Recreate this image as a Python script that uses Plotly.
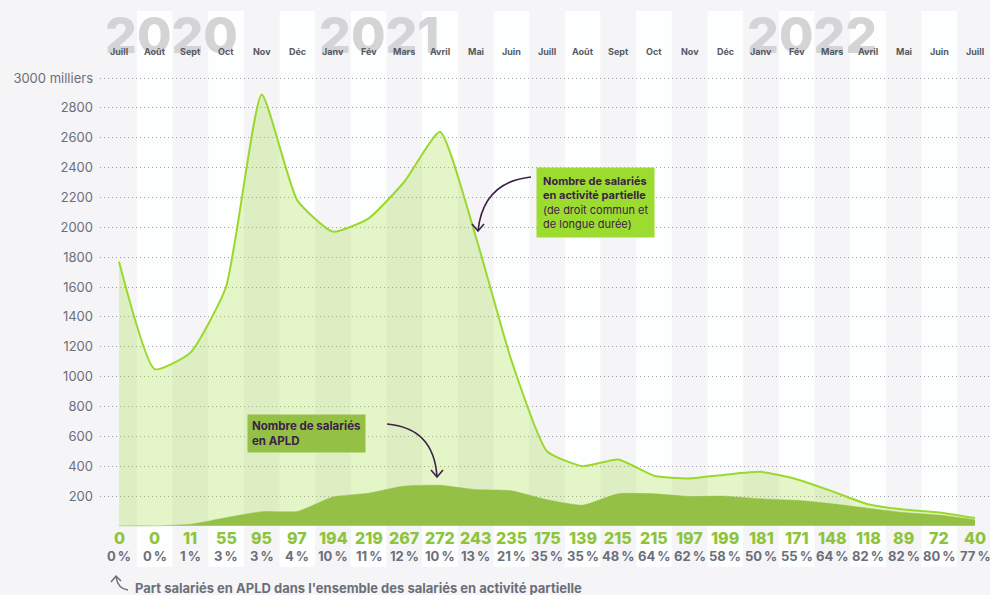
import plotly.graph_objects as go

# Monthly series, July 2020 -> July 2022
months = ["Juill", "Août", "Sept", "Oct", "Nov", "Déc", "Janv", "Fév", "Mars", "Avril", "Mai", "Juin",
          "Juill", "Août", "Sept", "Oct", "Nov", "Déc", "Janv", "Fév", "Mars", "Avril", "Mai", "Juin", "Juill"]
# Total employees in short-time work (thousands)
activite_partielle = [1770, 1050, 1160, 1600, 2890, 2180, 1970, 2060, 2305, 2640, 1940, 1110,
                      500, 400, 445, 336, 318, 343, 362, 312, 231, 145, 109, 90, 52]
# Employees in long-duration short-time work (APLD, thousands)
apld = [0, 0, 11, 55, 95, 97, 194, 219, 267, 272, 243, 235,
        175, 139, 215, 215, 197, 199, 181, 171, 148, 118, 89, 72, 40]
# Share of APLD among all employees in short-time work
part_apld = ["0", "0", "1", "3", "3", "4", "10", "11", "12", "10", "13", "21",
             "35", "35", "48", "64", "62", "58", "50", "55", "64", "82", "82", "80", "77"]
years = [("2020", 0), ("2021", 6), ("2022", 18)]
y_ticks = [200, 400, 600, 800, 1000, 1200, 1400, 1600, 1800, 2000, 2200, 2400, 2600, 2800, 3000]

FONT = "Inter"
BG = "#f5f5f7"
LIME = "#9bd82e"
APLD_GREEN = "#93c045"
GREY_TXT = "#6c6f79"
PURPLE = "#3c2249"
SMOOTH = 0.5

x = list(range(len(months)))

# figure geometry (pixels)
W, H = 990, 595
ML, MR, MT, MB = 100, 0, 60, 68
plot_w, plot_h = W - ML - MR, H - MT - MB
px_per_month = (975 - 119) / 24
x0_px = 119 - ML
x_range = [-x0_px / px_per_month, (plot_w - x0_px) / px_per_month]
px_per_unit = (496 - 78) / 2800
zero_px = 496 + 200 * px_per_unit
y_range = [-(MT + plot_h - zero_px) / px_per_unit, (zero_px - MT) / px_per_unit]


def py(p):
    """pixel row -> paper y"""
    return (MT + plot_h - p) / plot_h


def px(p):
    """pixel column -> paper x"""
    return (p - ML) / plot_w


def dx(p):
    """pixel column -> data x"""
    return (p - 119) / px_per_month


def dy(p):
    """pixel row -> data y"""
    return (zero_px - p) / px_per_unit


fig = go.Figure()

fig.add_trace(go.Scatter(
    x=x, y=activite_partielle, mode="lines",
    line=dict(color=LIME, width=2, shape="spline", smoothing=SMOOTH),
    fill="tozeroy", fillcolor="rgba(157,219,47,0.26)", hoverinfo="skip",
))
fig.add_trace(go.Scatter(
    x=x, y=apld, mode="lines",
    line=dict(color=APLD_GREEN, width=0.5, shape="spline", smoothing=SMOOTH),
    fill="tozeroy", fillcolor=APLD_GREEN, hoverinfo="skip",
))

shapes = []
# alternating white month columns
for i in x:
    if i % 2 == 1:
        shapes.append(dict(type="rect", xref="x", yref="paper", x0=i - 0.5, x1=i + 0.5,
                           y0=py(567), y1=py(11), fillcolor="#fdfefe", line=dict(width=0),
                           layer="below"))

# curved pointer arrows
def arrow(p0, c, p1, head):
    s = f"M {dx(p0[0])},{dy(p0[1])} Q {dx(c[0])},{dy(c[1])} {dx(p1[0])},{dy(p1[1])}"
    shapes.append(dict(type="path", xref="x", yref="y", path=s,
                       line=dict(color=PURPLE, width=1.6)))
    h = f"M {dx(head[0][0])},{dy(head[0][1])} L {dx(p1[0])},{dy(p1[1])} L {dx(head[1][0])},{dy(head[1][1])}"
    shapes.append(dict(type="path", xref="x", yref="y", path=h,
                       line=dict(color=PURPLE, width=1.6)))


arrow((531, 177), (483, 182), (478, 231), ((472, 224), (484, 224)))
arrow((387, 424), (434, 428), (437, 477), ((431, 470), (443, 470)))

# small hooked arrow of the footnote
shapes.append(dict(type="path", xref="paper", yref="paper",
                   path=f"M {px(128)},{py(590)} Q {px(118)},{py(589)} {px(116)},{py(577)}",
                   line=dict(color=GREY_TXT, width=1.5)))
shapes.append(dict(type="path", xref="paper", yref="paper",
                   path=f"M {px(111)},{py(582)} L {px(116)},{py(576)} L {px(121)},{py(581)}",
                   line=dict(color=GREY_TXT, width=1.5)))

annotations = []
# big year watermarks
for label, idx in years:
    annotations.append(dict(text=label, x=idx - 0.45, xref="x", y=py(35), yref="paper",
                            xanchor="left", yanchor="middle", showarrow=False,
                            font=dict(family=FONT, size=50, color="#d4d4d7", weight=800)))
# month labels
for i, m in enumerate(months):
    annotations.append(dict(text=m, x=i, xref="x", y=py(51), yref="paper",
                            xanchor="center", yanchor="middle", showarrow=False,
                            font=dict(family=FONT, size=9, color="#555962", weight=700)))
# APLD values and shares beneath the chart
for i in x:
    annotations.append(dict(text=str(apld[i]), x=i, xref="x", y=py(538), yref="paper",
                            xanchor="center", yanchor="middle", showarrow=False,
                            font=dict(family=FONT, size=16, color="#8dc43c", weight=800)))
    annotations.append(dict(text=part_apld[i] + "\u202f%", x=i, xref="x", y=py(556), yref="paper",
                            xanchor="center", yanchor="middle", showarrow=False,
                            font=dict(family=FONT, size=13, color=GREY_TXT, weight=700)))
# footnote
annotations.append(dict(text="Part salariés en APLD dans l'ensemble des salariés en activité partielle",
                        x=px(133), xref="paper", y=py(588), yref="paper",
                        xanchor="left", yanchor="middle", showarrow=False,
                        font=dict(family=FONT, size=13, color=GREY_TXT, weight=700)))
# callout boxes
annotations.append(dict(
    text="<b>Nombre de salariés</b><br><b>en activité partielle</b><br>(de droit commun et<br>de longue durée)",
    x=dx(536), xref="x", y=dy(167), yref="y", xanchor="left", yanchor="top",
    align="left", showarrow=False, bgcolor="#9cdb2f", borderpad=6,
    font=dict(family=FONT, size=11, color=PURPLE)))
annotations.append(dict(
    text="<b>Nombre de salariés</b><br><b>en APLD</b>",
    x=dx(247), xref="x", y=dy(414), yref="y", xanchor="left", yanchor="top",
    align="left", showarrow=False, bgcolor=APLD_GREEN, borderpad=4,
    font=dict(family=FONT, size=11.5, color=PURPLE)))

fig.update_layout(
    width=W, height=H, margin=dict(l=ML, r=MR, t=MT, b=MB),
    paper_bgcolor=BG, plot_bgcolor="rgba(0,0,0,0)",
    showlegend=False, shapes=shapes, annotations=annotations,
    xaxis=dict(range=x_range, showgrid=False, zeroline=False, showticklabels=False,
               fixedrange=True),
    yaxis=dict(range=y_range, tickvals=y_ticks,
               ticktext=[str(v) if v < 3000 else "3000 milliers" for v in y_ticks],
               showgrid=True, gridcolor="#9fa0a6", griddash="1px,3px", gridwidth=1,
               zeroline=False, ticks="", ticklabelstandoff=6,
               tickfont=dict(family=FONT, size=13, color=GREY_TXT), fixedrange=True),
)

fig.write_html("out.html")
